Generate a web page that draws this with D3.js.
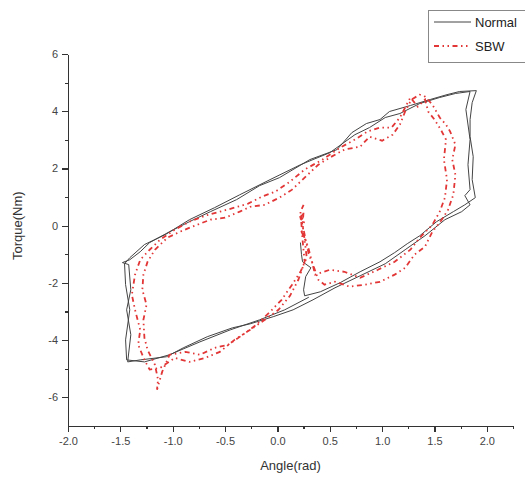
<!DOCTYPE html>
<html lang="en">
<head>
<meta charset="utf-8">
<title>Torque vs Angle</title>
<style>
  body { margin: 0; background: #fff; }
  .axis path, .axis line { stroke: #333; stroke-width: 1.2px; shape-rendering: crispEdges; }
  .axis text { font: 11px Arial, "Liberation Sans", sans-serif; fill: #444; }
  .minor line { stroke: #333; stroke-width: 1.2px; shape-rendering: crispEdges; }
  .title { font: 13px Arial, "Liberation Sans", sans-serif; fill: #333; }
  .normal { fill: none; stroke: #444; stroke-width: 1px; stroke-linejoin: round; }
  .sbw { fill: none; stroke: #e23636; stroke-width: 1.8px; stroke-dasharray: 5,3.5,1.5,3.5,1.5,3.5; }
  .legend-box { fill: #fff; stroke: #888; stroke-width: 1px; }
  .legend text { font: 13px Arial, "Liberation Sans", sans-serif; fill: #222; }
</style>
</head>
<body>
<svg id="chart" width="525" height="483"></svg>
<script src="https://cdnjs.cloudflare.com/ajax/libs/d3/7.8.5/d3.min.js"></script>
<script>

// Normal steering: [angle (rad), torque (Nm)]
var normalData = [
  [0.22,-0.59],[0.23,-1.01],[0.24,-1.26],[0.32,-1.47],[0.27,-1.78],[0.25,-2.24],[0.26,-2.45],
  [0.41,-2.31],[0.60,-1.99],[0.79,-1.61],[0.98,-1.26],[1.12,-0.94],[1.24,-0.63],[1.36,-0.35],
  [1.52,0.14],[1.68,0.49],[1.79,0.73],[1.89,0.98],[1.86,1.61],[1.87,2.41],[1.84,3.11],
  [1.84,3.71],[1.86,4.30],[1.90,4.72],[1.74,4.69],[1.62,4.58],[1.46,4.41],[1.27,4.20],
  [1.07,3.99],[0.98,3.71],[0.85,3.57],[0.71,3.25],[0.57,2.66],[0.31,2.31],[0.02,1.68],
  [-0.17,1.40],[-0.39,0.91],[-0.64,0.49],[-0.84,0.14],[-1.03,-0.21],[-1.22,-0.59],[-1.31,-0.91],
  [-1.41,-1.19],[-1.48,-1.29],[-1.42,-1.36],[-1.40,-2.24],[-1.44,-2.94],[-1.40,-3.81],[-1.43,-4.76],
  [-1.31,-4.69],[-1.06,-4.58],[-0.90,-4.27],[-0.67,-3.88],[-0.43,-3.57],[-0.26,-3.43],[-0.04,-3.18],
  [0.15,-2.94],[0.34,-2.59],[0.55,-2.17],[0.79,-1.75],[1.03,-1.33],[1.22,-0.84],[1.41,-0.35],
  [1.60,0.21],[1.76,0.49],[1.84,0.73],[1.79,1.05],[1.84,1.26],[1.82,2.13],[1.84,3.01],
  [1.80,4.06],[1.84,4.69],[1.70,4.62],[1.55,4.48],[1.36,4.27],[1.17,3.92],[1.03,3.78],
  [0.88,3.43],[0.74,3.18],[0.50,2.55],[0.22,2.13],[-0.07,1.61],[-0.36,1.08],[-0.60,0.63],
  [-0.84,0.21],[-1.07,-0.31],[-1.27,-0.66],[-1.41,-1.12],[-1.46,-1.33],[-1.45,-2.06],[-1.41,-2.94],
  [-1.45,-3.99],[-1.44,-4.69],[-1.27,-4.76],[-1.03,-4.51],[-0.74,-4.06],[-0.45,-3.64],[-0.17,-3.29],
  [0.07,-2.94],[0.30,-2.50]
];

// steer-by-wire: [angle (rad), torque (Nm)]
var sbwData = [
  [0.23,0.38],[0.22,0.14],[0.25,0.49],[0.24,0.03],[0.27,-0.49],[0.30,-1.01],[0.34,-1.36],
  [0.39,-1.89],[0.45,-2.06],[0.55,-1.96],[0.69,-2.13],[0.84,-2.06],[0.98,-1.96],[1.12,-1.71],
  [1.22,-1.47],[1.31,-1.01],[1.41,-0.73],[1.48,-0.21],[1.57,0.21],[1.63,0.56],[1.68,1.08],
  [1.70,1.78],[1.67,2.31],[1.70,2.83],[1.65,3.29],[1.61,3.53],[1.55,3.78],[1.48,4.23],
  [1.41,4.51],[1.36,4.58],[1.28,4.41],[1.22,3.99],[1.17,3.53],[1.10,3.18],[1.00,2.97],
  [0.88,3.11],[0.79,2.76],[0.64,2.66],[0.50,2.38],[0.39,2.13],[0.26,1.68],[0.14,1.26],
  [0.02,0.98],[-0.12,0.73],[-0.26,0.66],[-0.36,0.49],[-0.50,0.28],[-0.64,0.21],[-0.79,0.00],
  [-0.93,-0.21],[-1.05,-0.42],[-1.17,-0.84],[-1.24,-1.26],[-1.28,-1.71],[-1.29,-2.24],[-1.25,-2.76],
  [-1.28,-3.29],[-1.27,-3.92],[-1.24,-4.34],[-1.17,-4.86],[-1.14,-5.38],[-1.15,-5.73],[-1.10,-5.10],
  [-1.03,-4.51],[-0.88,-4.41],[-0.74,-4.51],[-0.60,-4.27],[-0.47,-4.16],[-0.33,-3.81],[-0.20,-3.46],
  [-0.07,-3.01],[0.04,-2.59],[0.14,-2.06],[0.22,-1.61],[0.28,-1.12],[0.26,-0.49],[0.24,0.03],
  [0.22,0.28],[0.26,0.21],[0.23,-0.21],[0.29,-0.70],[0.33,-1.26],[0.36,-1.71],[0.50,-1.54],
  [0.64,-1.61],[0.79,-1.82],[0.96,-1.54],[1.12,-1.26],[1.27,-0.84],[1.36,-0.42],[1.48,0.03],
  [1.55,0.49],[1.60,0.98],[1.62,1.61],[1.59,2.31],[1.61,3.01],[1.56,3.36],[1.50,3.71],
  [1.44,3.99],[1.41,4.41],[1.34,4.16],[1.27,4.48],[1.17,3.78],[1.09,3.43],[0.98,3.43],
  [0.86,3.29],[0.74,3.01],[0.60,2.73],[0.43,2.31],[0.26,1.96],[0.12,1.54],[-0.02,1.19],
  [-0.15,1.01],[-0.28,0.77],[-0.41,0.63],[-0.55,0.49],[-0.69,0.35],[-0.84,0.14],[-0.98,-0.14],
  [-1.12,-0.49],[-1.22,-0.84],[-1.31,-1.19],[-1.36,-1.71],[-1.39,-2.41],[-1.36,-2.94],[-1.31,-3.64],
  [-1.33,-4.16],[-1.27,-4.69],[-1.22,-5.03],[-1.12,-4.97],[-0.98,-4.62],[-0.84,-4.76],[-0.69,-4.62],
  [-0.55,-4.41],[-0.41,-3.99],[-0.26,-3.64],[-0.12,-3.29],[0.01,-2.94],[0.12,-2.45],[0.20,-1.89],
  [0.26,-1.26],[0.24,-0.49],[0.23,0.03],[0.22,0.49],[0.25,0.73]
];

var xTicks = [-2.0, -1.5, -1.0, -0.5, 0.0, 0.5, 1.0, 1.5, 2.0];
var xMinorTicks = [-1.75, -1.25, -0.75, -0.25, 0.25, 0.75, 1.25, 1.75, 2.25];
var yTicks = [-6, -4, -2, 0, 2, 4, 6];
var yMinorTicks = [-5, -3, -1, 1, 3, 5];

var seriesNames = ["Normal", "SBW"];

var svg = d3.select("svg#chart");

var xScale = d3.scaleLinear().domain([-2, 2.25]).range([68, 513]),
    yScale = d3.scaleLinear().domain([-7, 6]).range([426, 54]);

var line = d3.line()
    .x(function(d) { return xScale(d[0]); })
    .y(function(d) { return yScale(d[1]); });

// the two loops
svg.append("path")
    .datum(normalData)
    .attr("class", "normal")
    .attr("d", line);

svg.append("path")
    .datum(sbwData)
    .attr("class", "sbw")
    .attr("d", line);

// minor ticks first, so the axes sit on top
svg.append("g")
    .attr("class", "axis minor")
    .attr("transform", "translate(0," + yScale(-7) + ")")
    .call(d3.axisBottom(xScale).tickValues(xMinorTicks).tickSize(3).tickFormat(""))
    .select(".domain").remove();

svg.append("g")
    .attr("class", "axis minor")
    .attr("transform", "translate(" + xScale(-2) + ",0)")
    .call(d3.axisLeft(yScale).tickValues(yMinorTicks).tickSize(3).tickFormat(""))
    .select(".domain").remove();

// x axis
svg.append("g")
    .attr("class", "axis axis--x")
    .attr("transform", "translate(0," + yScale(-7) + ")")
    .call(d3.axisBottom(xScale).tickValues(xTicks).tickSize(6).tickSizeOuter(0).tickPadding(5)
        .tickFormat(d3.format(".1f")));

// y axis
svg.append("g")
    .attr("class", "axis axis--y")
    .attr("transform", "translate(" + xScale(-2) + ",0)")
    .call(d3.axisLeft(yScale).tickValues(yTicks).tickSize(6).tickSizeOuter(0).tickPadding(4)
        .tickFormat(d3.format("d")));

svg.selectAll(".axis text").text(function() { return this.textContent.replace("−", "-"); });

// axis titles
svg.append("text")
    .attr("class", "title")
    .attr("x", (xScale(-2) + xScale(2.25)) / 2)
    .attr("y", 470)
    .attr("text-anchor", "middle")
    .text("Angle(rad)");

svg.append("text")
    .attr("class", "title")
    .attr("transform", "translate(22," + yScale(0) + ") rotate(-90)")
    .attr("text-anchor", "middle")
    .text("Torque(Nm)");

// legend
var legend = svg.append("g").attr("class", "legend");

legend.append("rect")
    .attr("class", "legend-box")
    .attr("x", 428.5)
    .attr("y", 10.5)
    .attr("width", 110)
    .attr("height", 52);

var item = legend.selectAll(".item")
    .data(seriesNames)
    .enter().append("g")
    .attr("class", "item")
    .attr("transform", function(d, i) { return "translate(0," + (22 + i * 24) + ")"; });

item.append("line")
    .attr("x1", 434)
    .attr("x2", 471)
    .attr("class", function(d, i) { return i == 0 ? "normal" : "sbw"; });

item.append("text")
    .attr("x", 475)
    .attr("dy", "0.35em")
    .text(function(d) { return d; });

</script>
</body>
</html>
